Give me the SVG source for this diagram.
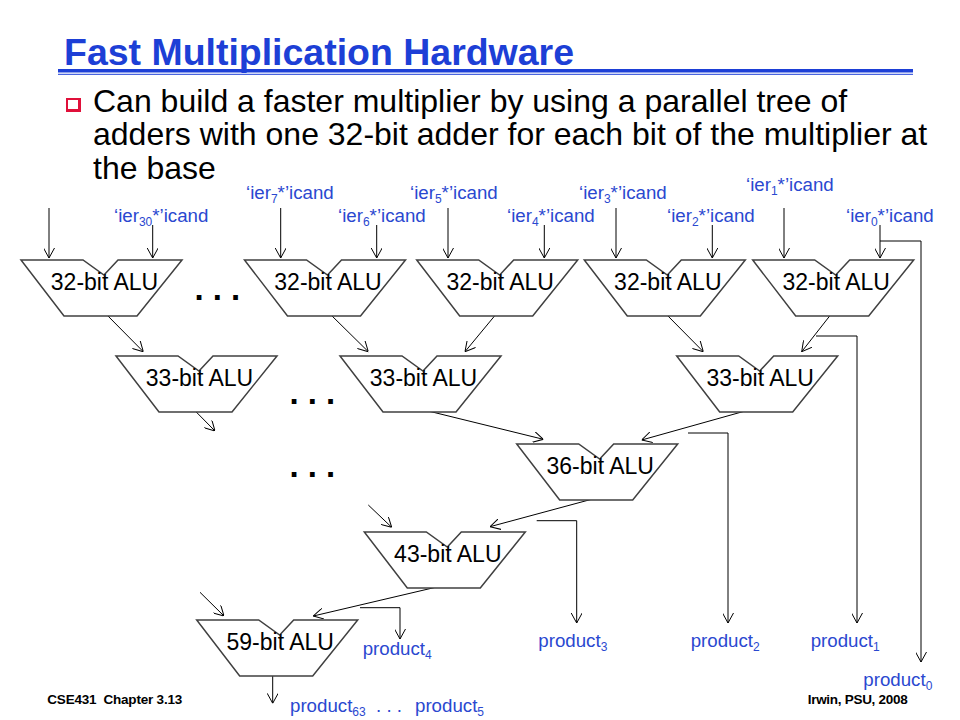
<svg xmlns="http://www.w3.org/2000/svg" width="960" height="720" viewBox="0 0 960 720">
<defs>
<marker id="ah" viewBox="0 0 10 11" refX="10" refY="5.5" markerWidth="10" markerHeight="11" markerUnits="userSpaceOnUse" orient="auto">
<path d="M0,0 L10,5.5 L0,11" fill="none" stroke="#000" stroke-width="1"/>
</marker>
</defs>
<style>
.alu{fill:#fff;stroke:#404040;stroke-width:1.5;stroke-linejoin:miter}
.alut{font-family:"Liberation Sans",Arial,sans-serif;font-size:23px;fill:#000;text-anchor:middle}
.lbl{font-family:"Liberation Sans",Arial,sans-serif;font-size:18.7px;fill:#2a48d0}
.sub{font-size:12px}
.w{fill:none;stroke:#000;stroke-width:1;marker-end:url(#ah)}
.dots{font-family:"Liberation Sans",Arial,sans-serif;font-size:33px;font-weight:bold;fill:#000}
.foot{font-family:"Liberation Sans",Arial,sans-serif;font-size:13.5px;font-weight:bold;fill:#000}
</style>
<rect width="960" height="720" fill="#fff"/>

<g id="title">
<text x="64" y="65" font-family="'Liberation Sans',Arial,sans-serif" font-size="37" font-weight="bold" fill="#1d3fd6" textLength="510" lengthAdjust="spacingAndGlyphs">Fast Multiplication Hardware</text>
<rect x="58" y="69" width="855" height="3.5" fill="#1d3fd6"/>
<rect x="58" y="73.8" width="855" height="1" fill="#1d3fd6"/>
</g>

<g id="bullet">
<rect x="66" y="98" width="15" height="14" fill="#e0103a"/>
<rect x="68" y="100" width="10" height="9" fill="#fff"/>
<text font-family="'Liberation Sans',Arial,sans-serif" font-size="32" fill="#000">
<tspan x="93" y="111.5">Can build a faster multiplier by using a parallel tree of</tspan>
<tspan x="93" y="145">adders with one 32-bit adder for each bit of the multiplier at</tspan>
<tspan x="93" y="179">the base</tspan>
</text>
</g>

<g id="labels">
<text class="lbl" x="114" y="221.5">‘ier<tspan class="sub" dy="4">30</tspan><tspan dy="-4">*’icand</tspan></text>
<text class="lbl" x="246" y="198.5">‘ier<tspan class="sub" dy="4">7</tspan><tspan dy="-4">*’icand</tspan></text>
<text class="lbl" x="338" y="221.5">‘ier<tspan class="sub" dy="4">6</tspan><tspan dy="-4">*’icand</tspan></text>
<text class="lbl" x="410" y="198.5">‘ier<tspan class="sub" dy="4">5</tspan><tspan dy="-4">*’icand</tspan></text>
<text class="lbl" x="507" y="221.5">‘ier<tspan class="sub" dy="4">4</tspan><tspan dy="-4">*’icand</tspan></text>
<text class="lbl" x="579" y="198.5">‘ier<tspan class="sub" dy="4">3</tspan><tspan dy="-4">*’icand</tspan></text>
<text class="lbl" x="667" y="221.5">‘ier<tspan class="sub" dy="4">2</tspan><tspan dy="-4">*’icand</tspan></text>
<text class="lbl" x="746" y="190.5">‘ier<tspan class="sub" dy="4">1</tspan><tspan dy="-4">*’icand</tspan></text>
<text class="lbl" x="846" y="221.5">‘ier<tspan class="sub" dy="4">0</tspan><tspan dy="-4">*’icand</tspan></text>
</g>

<g id="connectors">
<line class="w" x1="49" y1="208" x2="49" y2="258"/>
<line class="w" x1="152.7" y1="225" x2="152.7" y2="258"/>
<line class="w" x1="280.7" y1="208" x2="280.7" y2="258"/>
<line class="w" x1="376.7" y1="225" x2="376.7" y2="258"/>
<line class="w" x1="448" y1="208" x2="448" y2="258"/>
<line class="w" x1="544.3" y1="225" x2="544.3" y2="258"/>
<line class="w" x1="616" y1="208" x2="616" y2="258"/>
<line class="w" x1="712.3" y1="225" x2="712.3" y2="258"/>
<line class="w" x1="784" y1="208" x2="784" y2="258"/>
<line class="w" x1="880" y1="225" x2="880" y2="258"/>
<polyline class="w" points="880,241 921,241 921,662"/>

<line class="w" x1="105" y1="313" x2="143.3" y2="351.7"/>
<line class="w" x1="329" y1="313" x2="368.3" y2="351.7"/>
<line class="w" x1="497" y1="313" x2="465" y2="351.7"/>
<line class="w" x1="665" y1="313" x2="703.3" y2="351.7"/>
<line class="w" x1="832" y1="313" x2="801.7" y2="351.7"/>
<polyline class="w" points="816,336 857,336 857,623"/>

<line class="w" x1="192.3" y1="408" x2="215" y2="431"/>
<line class="w" x1="416" y1="408" x2="543.3" y2="439.3"/>
<line class="w" x1="752.3" y1="409" x2="641.7" y2="440"/>
<polyline class="w" points="688,433 728,433 728,623"/>

<line class="w" x1="600" y1="497" x2="490" y2="526.7"/>
<polyline class="w" points="536.7,520.7 576.7,520.7 576.7,623"/>

<line class="w" x1="368.3" y1="505" x2="391.7" y2="527.3"/>
<line class="w" x1="448.3" y1="584.3" x2="313.3" y2="616"/>
<polyline class="w" points="360,607.7 400,607.7 400,639"/>

<line class="w" x1="200" y1="592.3" x2="224" y2="616"/>
<line class="w" x1="272.7" y1="672.7" x2="272.7" y2="703.3"/>
</g>

<g id="alu32a"><path class="alu" d="M21,260 H83 L104,275 L118,260 H182 L137,316 H64 Z"/><text class="alut" x="104.5" y="290">32-bit ALU</text></g>
<g id="alu32b"><path class="alu" d="M244.5,260 H306.5 L327.5,275 L341.5,260 H405.5 L360.5,316 H287.5 Z"/><text class="alut" x="328" y="290">32-bit ALU</text></g>
<g id="alu32c"><path class="alu" d="M416.7,260 H478.7 L499.7,275 L513.7,260 H577.7 L532.7,316 H459.7 Z"/><text class="alut" x="500.2" y="290">32-bit ALU</text></g>
<g id="alu32d"><path class="alu" d="M584.3,260 H646.3 L667.3,275 L681.3,260 H745.3 L700.3,316 H627.3 Z"/><text class="alut" x="667.8" y="290">32-bit ALU</text></g>
<g id="alu32e"><path class="alu" d="M752.7,260 H814.7 L835.7,275 L849.7,260 H913.7 L868.7,316 H795.7 Z"/><text class="alut" x="836.2" y="290">32-bit ALU</text></g>

<g id="alu33a"><path class="alu" d="M116,356 H178 L199,371 L213,356 H277 L232,412 H159 Z"/><text class="alut" x="199.5" y="386">33-bit ALU</text></g>
<g id="alu33b"><path class="alu" d="M340,356 H402 L423,371 L437,356 H501 L456,412 H383 Z"/><text class="alut" x="423.5" y="386">33-bit ALU</text></g>
<g id="alu33c"><path class="alu" d="M676.7,356 H738.7 L759.7,371 L773.7,356 H837.7 L792.7,412 H719.7 Z"/><text class="alut" x="760.2" y="386">33-bit ALU</text></g>

<g id="alu36"><path class="alu" d="M516.7,444 H578.7 L599.7,459 L613.7,444 H677.7 L632.7,500 H559.7 Z"/><text class="alut" x="600.2" y="474">36-bit ALU</text></g>
<g id="alu43"><path class="alu" d="M364.3,532 H426.3 L447.3,547 L461.3,532 H525.3 L480.3,588 H407.3 Z"/><text class="alut" x="447.8" y="562">43-bit ALU</text></g>
<g id="alu59"><path class="alu" d="M196.7,620 H258.7 L279.7,635 L293.7,620 H357.7 L312.7,676 H239.7 Z"/><text class="alut" x="280.2" y="650">59-bit ALU</text></g>

<g id="ellipses">
<text class="dots" x="194.4" y="300">. . .</text>
<text class="dots" x="289.4" y="404">. . .</text>
<text class="dots" x="289.4" y="476.7">. . .</text>
</g>

<g id="products">
<text class="lbl" x="362.7" y="655">product<tspan class="sub" dy="4">4</tspan></text>
<text class="lbl" x="538.3" y="646.7">product<tspan class="sub" dy="4">3</tspan></text>
<text class="lbl" x="690.7" y="646.7">product<tspan class="sub" dy="4">2</tspan></text>
<text class="lbl" x="810.7" y="646.7">product<tspan class="sub" dy="4">1</tspan></text>
<text class="lbl" x="863.3" y="686">product<tspan class="sub" dy="4">0</tspan></text>
<text class="lbl" x="290" y="711.5">product<tspan class="sub" dy="4">63</tspan><tspan x="376" dy="-4">. . .</tspan><tspan x="415">product</tspan><tspan class="sub" dy="4">5</tspan></text>
</g>

<g id="footer">
<text class="foot" x="47.3" y="704" xml:space="preserve" textLength="135" lengthAdjust="spacing">CSE431  Chapter 3.13</text>
<text class="foot" x="807.7" y="703.5" textLength="100" lengthAdjust="spacing">Irwin, PSU, 2008</text>
</g>
</svg>
